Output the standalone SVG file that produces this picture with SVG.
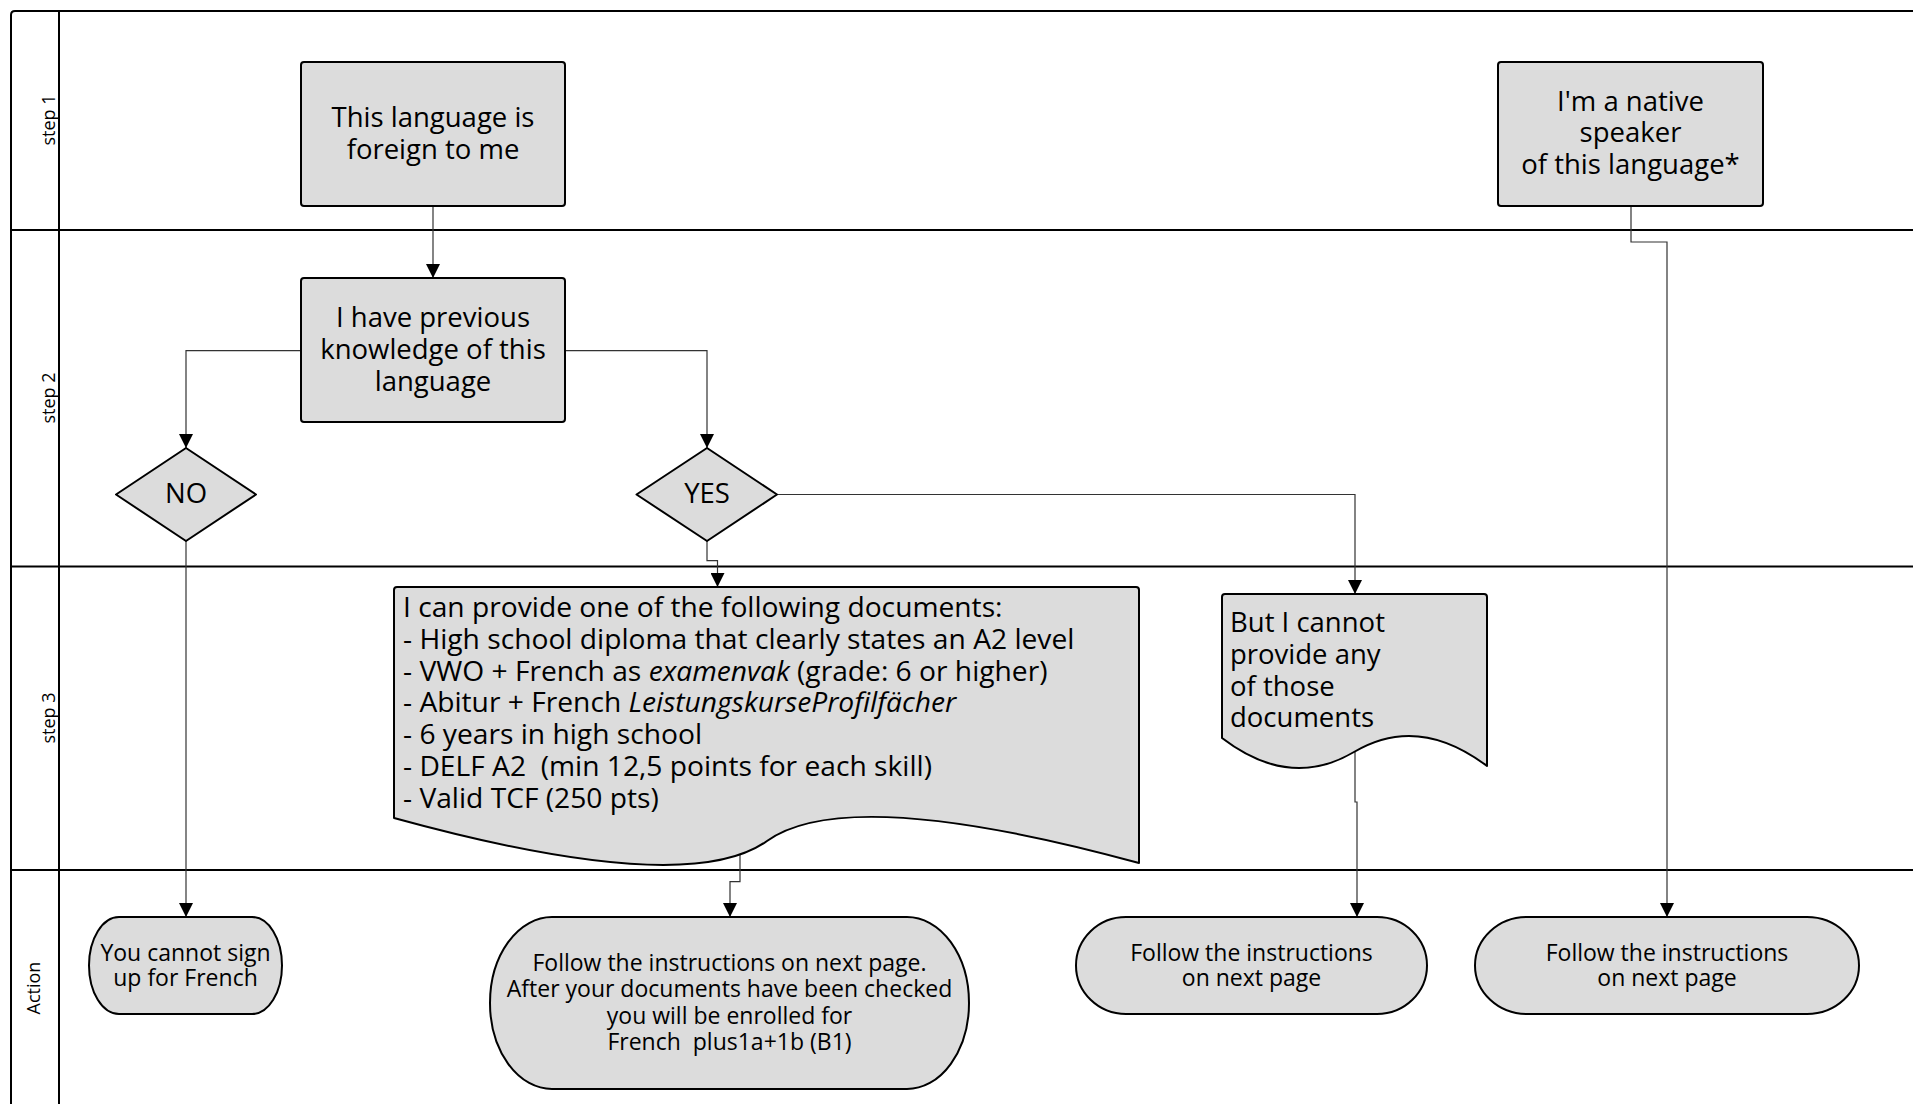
<svg xmlns="http://www.w3.org/2000/svg" width="1913" height="1104" viewBox="0 0 1913 1104">
<style>
.lane{fill:none;stroke:#000;stroke-width:2}
.node{fill:#dcdcdc;stroke:#000;stroke-width:2;stroke-linejoin:round}
.t{font-family:'Open Sans','Segoe UI','DejaVu Sans',sans-serif;fill:#000}
.b{font-size:27.5px}
.d{font-size:28.2px}
.s{font-size:23px}
.lbl{font-size:18px}
.c{text-anchor:middle}
.conn{fill:none;stroke:#333;stroke-width:1.2}
</style>
<defs>
<marker id="arr" markerUnits="userSpaceOnUse" markerWidth="14" markerHeight="14" refX="14" refY="7" orient="auto">
<path d="M0,0 L14,7 L0,14 z" fill="#000"/>
</marker>
</defs>
<rect width="1913" height="1104" fill="#fff"/>
<g id="lanes">
<path class="lane" d="M11,1104 V15 Q11,11 15,11 H1913"/>
<path class="lane" d="M59,11 V1104"/>
<path class="lane" d="M11,230 H1913 M11,566.5 H1913 M11,870 H1913"/>
<text class="t lbl c" transform="translate(55,120) rotate(-90)">step 1</text>
<text class="t lbl c" transform="translate(55,398) rotate(-90)">step 2</text>
<text class="t lbl c" transform="translate(55,718) rotate(-90)">step 3</text>
<text class="t lbl c" transform="translate(40,988) rotate(-90)">Action</text>
</g>
<g id="connectors">
<path class="conn" d="M433,206 V278" marker-end="url(#arr)"/>
<path class="conn" d="M301,350.7 H186 V448" marker-end="url(#arr)"/>
<path class="conn" d="M565,350.7 H707 V448" marker-end="url(#arr)"/>
<path class="conn" d="M707,541 V560.7 H717.5 V587" marker-end="url(#arr)"/>
<path class="conn" d="M777,494.5 H1355 V594" marker-end="url(#arr)"/>
<path class="conn" d="M1631,206 V242 H1667 V917" marker-end="url(#arr)"/>
<path class="conn" d="M186,541 V917" marker-end="url(#arr)"/>
<path class="conn" d="M740,848 V881.7 H730 V917" marker-end="url(#arr)"/>
<path class="conn" d="M1355,752 V802 H1357 V917" marker-end="url(#arr)"/>
</g>
<g id="foreign">
<rect class="node" x="301" y="62" width="264" height="144" rx="3"/>
<text class="t b c" x="433" y="127">This language is</text>
<text class="t b c" x="433" y="158.8">foreign to me</text>
</g>
<g id="native">
<rect class="node" x="1498" y="62" width="265" height="144" rx="3"/>
<text class="t b c" x="1630.5" y="110.5">I'm a native</text>
<text class="t b c" x="1630.5" y="142.3">speaker</text>
<text class="t b c" x="1630.5" y="174.2">of this language*</text>
</g>
<g id="previous">
<rect class="node" x="301" y="278" width="264" height="144" rx="3"/>
<text class="t b c" x="433" y="327">I have previous</text>
<text class="t b c" x="433" y="358.8">knowledge of this</text>
<text class="t b c" x="433" y="390.5">language</text>
</g>
<g id="no">
<path class="node" d="M186,448 L256,494.5 L186,541 L116,494.5 Z"/>
<text class="t b c" x="186" y="503">NO</text>
</g>
<g id="yes">
<path class="node" d="M707,448 L777,494.5 L707,541 L636.5,494.5 Z"/>
<text class="t b c" x="707" y="503">YES</text>
</g>
<g id="documents">
<path class="node" d="M394,818 V590 Q394,587 397,587 H1136 Q1139,587 1139,590 V863 Q847,783.5 767,841 Q687,898.5 394,818 Z"/>
<text class="t d" x="403" y="617" xml:space="preserve">I can provide one of the following documents:</text>
<text class="t d" x="403" y="649" xml:space="preserve">- High school diploma that clearly states an A2 level</text>
<text class="t d" x="403" y="680.5" xml:space="preserve">- VWO + French as <tspan font-style="italic">examenvak</tspan> (grade: 6 or higher)</text>
<text class="t d" x="403" y="712" xml:space="preserve">- Abitur + French <tspan font-style="italic">LeistungskurseProfilfächer</tspan></text>
<text class="t d" x="403" y="744" xml:space="preserve">- 6 years in high school</text>
<text class="t d" x="403" y="776" xml:space="preserve">- DELF A2  (min 12,5 points for each skill)</text>
<text class="t d" x="403" y="808" xml:space="preserve">- Valid TCF (250 pts)</text>
</g>
<g id="cannot">
<path class="node" d="M1222,738 V597 Q1222,594 1225,594 H1484 Q1487,594 1487,597 V766 Q1418,714 1354,752 Q1290,790 1222,738 Z"/>
<text class="t b" x="1230" y="632">But I cannot</text>
<text class="t b" x="1230" y="664">provide any</text>
<text class="t b" x="1230" y="695.5">of those</text>
<text class="t b" x="1230" y="727">documents</text>
</g>
<g id="cannot-sign-up">
<path class="node" d="M119,917 H252 A30,48.5 0 0 1 252,1014 H119 A30,48.5 0 0 1 119,917 Z"/>
<text class="t s c" x="185.5" y="960.5">You cannot sign</text>
<text class="t s c" x="185.5" y="986">up for French</text>
</g>
<g id="enrolled">
<path class="node" d="M552,917 H907 A62,86 0 0 1 907,1089 H552 A62,86 0 0 1 552,917 Z"/>
<text class="t s c" x="729.5" y="970.5" xml:space="preserve">Follow the instructions on next page.</text>
<text class="t s c" x="729.5" y="997" xml:space="preserve">After your documents have been checked</text>
<text class="t s c" x="729.5" y="1023.5" xml:space="preserve">you will be enrolled for</text>
<text class="t s c" x="729.5" y="1050" xml:space="preserve">French  plus1a+1b (B1)</text>
</g>
<g id="follow-1">
<path class="node" d="M1126,917 H1377 A50,48.5 0 0 1 1377,1014 H1126 A50,48.5 0 0 1 1126,917 Z"/>
<text class="t s c" x="1251.5" y="960.5">Follow the instructions</text>
<text class="t s c" x="1251.5" y="986">on next page</text>
</g>
<g id="follow-2">
<path class="node" d="M1527,917 H1807 A52,48.5 0 0 1 1807,1014 H1527 A52,48.5 0 0 1 1527,917 Z"/>
<text class="t s c" x="1667" y="960.5">Follow the instructions</text>
<text class="t s c" x="1667" y="986">on next page</text>
</g>
</svg>
